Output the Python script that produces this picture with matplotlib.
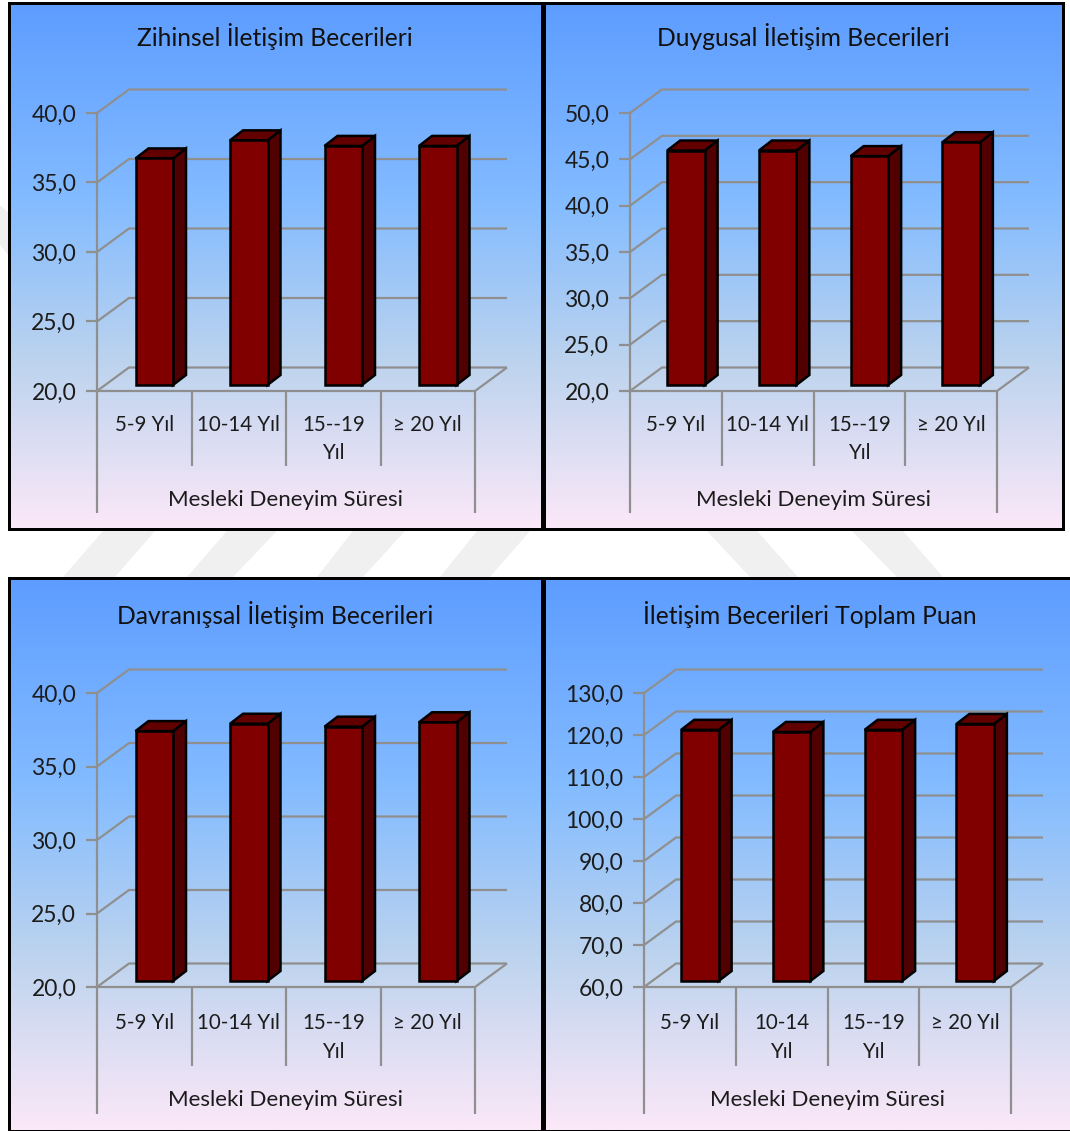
import numpy as np
from matplotlib import pyplot as plt
from matplotlib.colors import LinearSegmentedColormap
from matplotlib.patches import Polygon, Rectangle

W, H = 1070, 1131
plt.rcParams['font.family'] = ['Lato', 'DejaVu Sans']

AXIS_LABEL = "Mesleki Deneyim Süresi"

# panel contents
titles = ["Zihinsel İletişim Becerileri", "Duygusal İletişim Becerileri",
          "Davranışsal İletişim Becerileri", "İletişim Becerileri Toplam Puan"]
cats_a = ["5-9 Yıl", "10-14 Yıl", "15--19\nYıl", "≥ 20 Yıl"]
cats_b = ["5-9 Yıl", "10-14\nYıl", "15--19\nYıl", "≥ 20 Yıl"]
categories = [cats_a, cats_a, cats_a, cats_b]

zihinsel = [36.3, 37.6, 37.2, 37.2]
duygusal = [45.3, 45.3, 44.7, 46.2]
davranissal = [37.0, 37.5, 37.3, 37.6]
toplam = [119.8, 119.3, 119.8, 121.2]
series = [zihinsel, duygusal, davranissal, toplam]

y_ticks = [np.arange(20, 41, 5), np.arange(20, 51, 5),
           np.arange(20, 41, 5), np.arange(60, 131, 10)]

# layout, all in pixels from the top left corner of the figure
FILLS = [(11, 5, 541, 528), (546, 5, 1062, 528), (11, 580, 541, 1130), (546, 580, 1070, 1130)]
FRAMES = [(8, 2, 544, 531), (543, 2, 1065, 531), (8, 577, 544, 1132), (543, 577, 1074, 1132)]
PLOTS = [(97, 113, 475, 391), (630, 113, 997, 391), (97, 693, 475, 987), (644, 693, 1011, 987)]
TITLE_POS = [(275, 37), (803, 37), (275, 614), (810, 614)]
CAT_LINE_BOTTOM = [75, 75, 79, 79]       # category separators, below the floor
GROUP_LINE_BOTTOM = [122, 122, 127, 127] # outer separators, below the floor
GROUP_LABEL_OFFSET = [109, 109, 113, 113]
CAT_PAD = [17, 17, 19, 19]

WALL_DX, WALL_DY = 32, 23.5
BAR_OFFSET_X, BAR_OFFSET_Y = 10, 6
BAR_W = 37.5
BAR_DX, BAR_DY = 13, 10

GRID = "#8f8f8f"
TXT = "#1c1c1c"
BAR_FRONT = "#800000"
BAR_SIDE = "#500000"
BAR_TOP = "#620000"

gradient = LinearSegmentedColormap.from_list(
    "panel", [(0, "#5e9dff"), (0.38, "#84bcff"), (0.68, "#bcd3ee"), (1, "#fbe8f8")])

fig = plt.figure(figsize=(W / 100, H / 100), dpi=100, facecolor="white")

# backdrop in pixel coordinates: watermark stripes, frames and gradients
bg = fig.add_axes([0, 0, 1, 1])
bg.set_xlim(0, W)
bg.set_ylim(H, 0)
bg.axis("off")

stripes = [[(103, 531), (155, 531), (115, 577), (63, 577)],
           [(227, 531), (277, 531), (233, 577), (187, 577)],
           [(353, 531), (405, 531), (363, 577), (317, 577)],
           [(477, 531), (530, 531), (490, 577), (440, 577)],
           [(707, 531), (757, 531), (798, 577), (750, 577)],
           [(852, 531), (903, 531), (943, 577), (897, 577)],
           [(0, 205), (8, 212), (8, 255), (0, 245)]]
for s in stripes:
    bg.add_patch(Polygon(s, closed=True, fc="#f0f0f0", ec="none"))

for x0, y0, x1, y1 in FRAMES:
    bg.add_patch(Rectangle((x0, y0), x1 - x0, y1 - y0, fc="black", ec="none"))

ramp = np.linspace(0, 1, 256).reshape(-1, 1)
for x0, y0, x1, y1 in FILLS:
    bg.imshow(ramp, cmap=gradient, extent=(x0, x1, y1, y0), aspect="auto", zorder=2)
bg.set_xlim(0, W)
bg.set_ylim(H, 0)

for t, (tx, ty) in zip(titles, TITLE_POS):
    bg.text(tx, ty, t, ha="center", va="center", fontsize=17.7, color="#111111", zorder=3)


def drawPanel(box, cats, values, ticks, catLine, groupLine, groupLabel, catPad):
    x0, y0, x1, y1 = box
    ax = fig.add_axes([x0 / W, 1 - y1 / H, (x1 - x0) / W, (y1 - y0) / H])
    ax.patch.set_visible(False)
    ax.set_xlim(0, 4)
    ax.set_ylim(ticks[0], ticks[-1])

    # pixel sizes expressed in data units
    px = 4 / (x1 - x0)
    py = (ticks[-1] - ticks[0]) / (y1 - y0)
    wall_x, wall_y = WALL_DX * px, WALL_DY * py
    line = dict(color=GRID, lw=1.6, clip_on=False, solid_capstyle="butt")

    # back wall gridlines with their diagonals
    for t in ticks:
        ax.plot([0, wall_x, 4 + wall_x], [t, t + wall_y, t + wall_y], zorder=1, **line)
    ax.plot([4, 4 + wall_x], [ticks[0], ticks[0] + wall_y], zorder=1, **line)

    # separators under the floor
    ax.plot([0, 4], [ticks[0], ticks[0]], zorder=1, **line)
    for i in range(1, 4):
        ax.plot([i, i], [ticks[0], ticks[0] - catLine * py], zorder=1, **line)
    for i in (0, 4):
        ax.plot([i, i], [ticks[0], ticks[0] - groupLine * py], zorder=1, **line)

    # bars: front face from the values, then the side and top faces
    centers = np.arange(4) + 0.5
    bw = BAR_W * px
    off_x, off_y = BAR_OFFSET_X * px, BAR_OFFSET_Y * py
    dx, dy = BAR_DX * px, BAR_DY * py
    edge = dict(ec="black", lw=1.8, joinstyle="miter", clip_on=False)
    for c, v in zip(centers, values):
        left = c + off_x - bw / 2
        right = left + bw
        base = ticks[0] + off_y
        top = v + off_y
        ax.bar(left, top - base, width=bw, bottom=base, align="edge", fc=BAR_FRONT, zorder=4, **edge)
        ax.fill([right, right + dx, right + dx, right], [base, base + dy, top + dy, top],
                fc=BAR_SIDE, zorder=3, **edge)
        ax.fill([left, right, right + dx, left + dx], [top, top, top + dy, top + dy],
                fc=BAR_TOP, zorder=3, **edge)

    ax.set_yticks(ticks, [f"{t:.1f}".replace(".", ",") for t in ticks])
    ax.set_xticks(centers, cats)
    ax.tick_params(axis="y", length=8, width=1.6, color=GRID, labelsize=16.5, labelcolor=TXT, pad=7)
    ax.tick_params(axis="x", length=0, labelsize=14.8, labelcolor=TXT, pad=catPad)
    for lab in ax.get_xticklabels():
        lab.set_linespacing(1.55)
    for name, spine in ax.spines.items():
        spine.set_visible(name == "left")
    ax.spines["left"].set_color(GRID)
    ax.spines["left"].set_linewidth(1.6)

    ax.text(2, ticks[0] - groupLabel * py, AXIS_LABEL, ha="center", va="center",
            fontsize=16, color=TXT)
    return ax


for i in range(4):
    drawPanel(PLOTS[i], categories[i], series[i], y_ticks[i],
              CAT_LINE_BOTTOM[i], GROUP_LINE_BOTTOM[i], GROUP_LABEL_OFFSET[i], CAT_PAD[i])

fig.savefig("out.png", dpi=100)
